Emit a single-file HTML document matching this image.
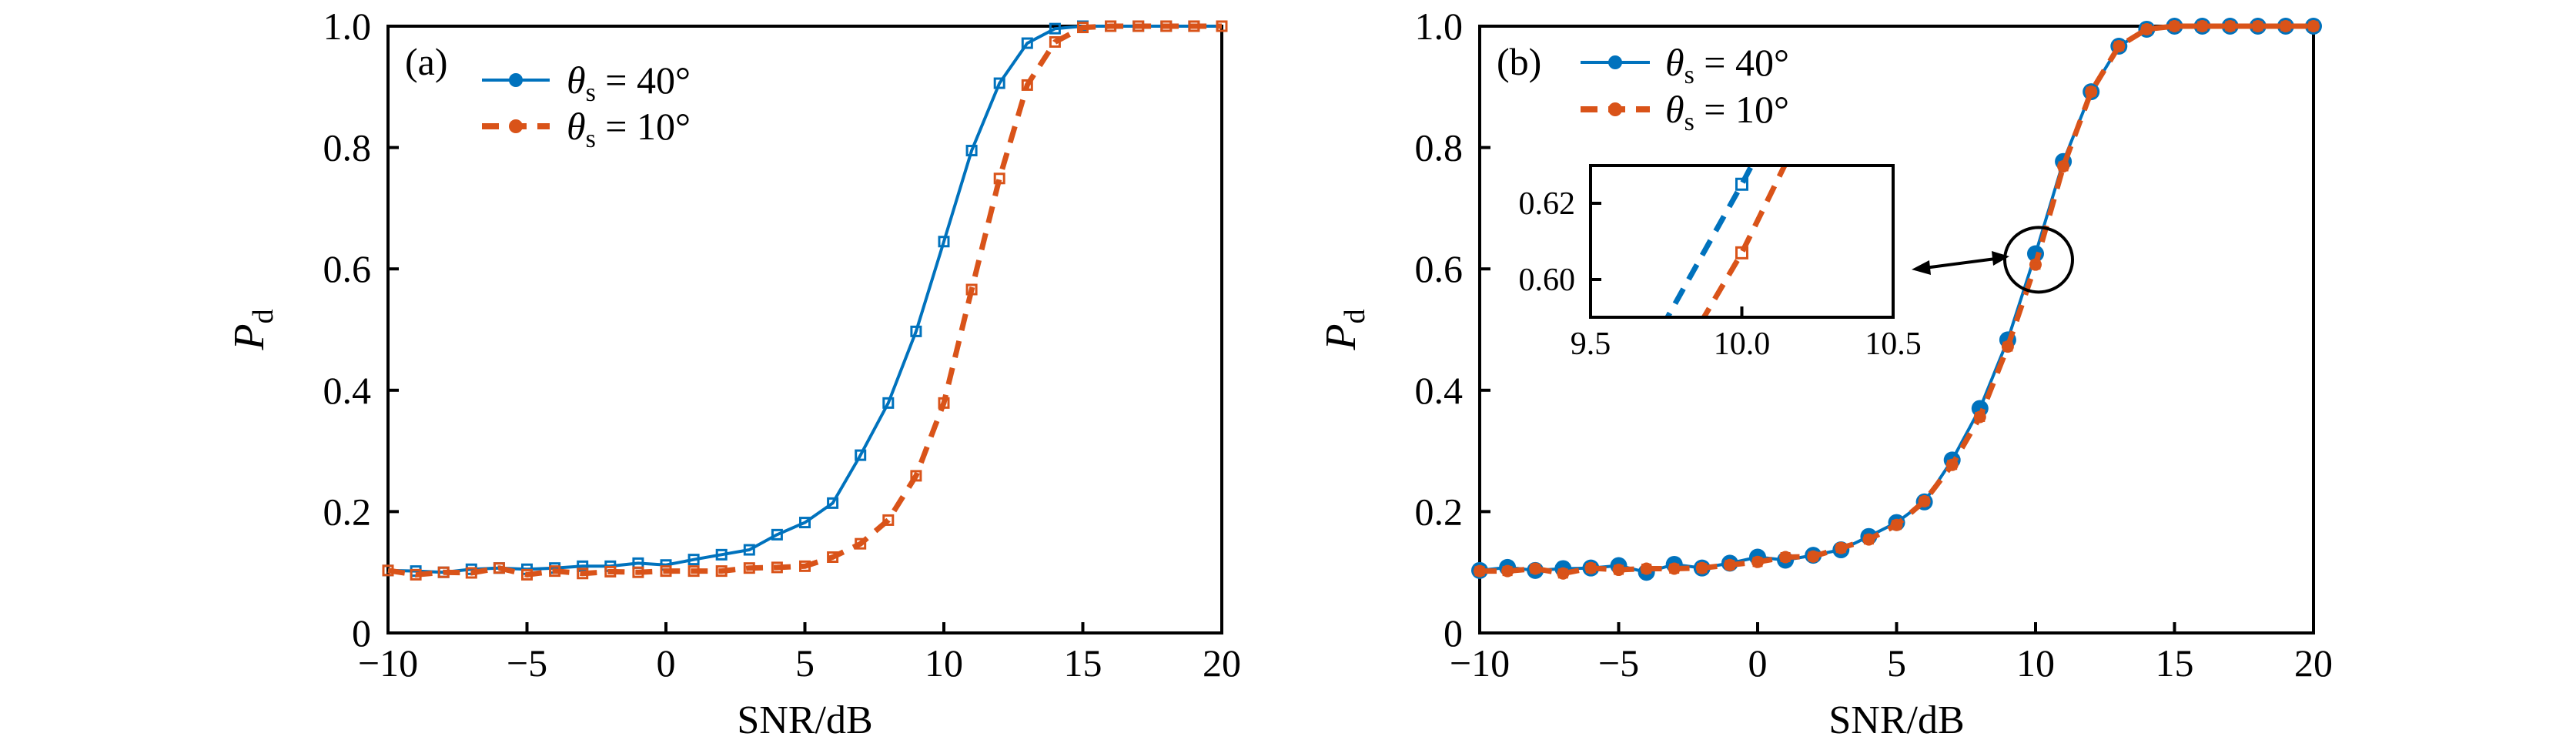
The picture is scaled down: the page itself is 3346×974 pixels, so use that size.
<!DOCTYPE html>
<html><head><meta charset="utf-8"><style>
html,body{margin:0;padding:0;background:#fff;width:3346px;height:974px;overflow:hidden;}
svg{display:block;}
svg text{font-family:"Liberation Serif","DejaVu Serif",serif !important;fill:#000;}
</style></head><body>
<svg id="fig" width="3346" height="974" viewBox="0 0 3346 974" font-family="Liberation Serif, serif" xmlns="http://www.w3.org/2000/svg">
<defs>
<clipPath id="clipInset"><rect x="2066" y="215" width="393" height="197"/></clipPath>
</defs>
<g id="panelA"></g>
<g id="panelB"></g>
</svg>
<script>
const snr = [-10,-9,-8,-7,-6,-5,-4,-3,-2,-1,0,1,2,3,4,5,6,7,8,9,10,11,12,13,14,15,16,17,18,19,20];
const aBlue = [0.103,0.102,0.100,0.105,0.107,0.105,0.107,0.110,0.110,0.115,0.112,0.121,0.129,0.137,0.162,0.182,0.214,0.293,0.379,0.497,0.645,0.795,0.906,0.972,0.996,1.0,1.0,1.0,1.0,1.0,1.0];
const aOrange = [0.103,0.096,0.100,0.099,0.107,0.096,0.102,0.098,0.101,0.100,0.102,0.102,0.102,0.107,0.108,0.110,0.125,0.147,0.186,0.259,0.379,0.566,0.749,0.903,0.974,0.998,1.0,1.0,1.0,1.0,1.0];
const bBlue = [0.103,0.108,0.103,0.106,0.107,0.111,0.100,0.113,0.107,0.115,0.125,0.120,0.128,0.137,0.159,0.182,0.216,0.285,0.370,0.483,0.625,0.777,0.892,0.967,0.995,1.0,1.0,1.0,1.0,1.0,1.0];
const bOrange = [0.102,0.102,0.106,0.098,0.107,0.104,0.106,0.106,0.107,0.112,0.117,0.125,0.126,0.140,0.154,0.178,0.217,0.277,0.356,0.472,0.607,0.769,0.892,0.967,0.995,1.0,1.0,1.0,1.0,1.0,1.0];
const xTicks = [-10,-5,0,5,10,15,20];
const xTickLabels = ["\u221210","\u22125","0","5","10","15","20"];
const yTicks = [0,0.2,0.4,0.6,0.8,1.0];
const yTickLabels = ["0","0.2","0.4","0.6","0.8","1.0"];
const insetXTicks = [9.5,10.0,10.5];
const insetXTickLabels = ["9.5","10.0","10.5"];
const insetYTicks = [0.60,0.62];
const insetYTickLabels = ["0.60","0.62"];

const NS = "http://www.w3.org/2000/svg";
const BLUE = "#0072BD", ORANGE = "#D95319";
function mk(tag, attrs, parent){const e=document.createElementNS(NS,tag);for(const k in attrs)e.setAttribute(k,attrs[k]);if(tag==='text')e.setAttribute('font-family','Liberation Serif, serif');parent.appendChild(e);return e;}
function linScale(d0,d1,r0,r1){return v=>r0+(v-d0)/(d1-d0)*(r1-r0);}

function axes(g, L, R, T, B, sx, sy, label){
  const frame = mk('rect',{x:L,y:T,width:R-L,height:B-T,fill:'none',stroke:'#000','stroke-width':4},g);
  
  
  xTicks.forEach((t,i)=>{
    const x=sx(t);
    const tk=mk('line',{x1:x,x2:x,y1:B,y2:B-14,stroke:'#000','stroke-width':4},g);
    
    
    const tx=mk('text',{x:x,y:878,'font-size':50,'text-anchor':'middle'},g);
    tx.textContent=xTickLabels[i];
    
    
  });
  yTicks.forEach((t,i)=>{
    const y=sy(t);
    const tk=mk('line',{x1:L,x2:L+14,y1:y,y2:y,stroke:'#000','stroke-width':4},g);
    
    
    const tx=mk('text',{x:L-22,y:y+17,'font-size':50,'text-anchor':'end'},g);
    tx.textContent=yTickLabels[i];
    
    
  });
  const xt=mk('text',{x:(L+R)/2,y:952,'font-size':52,'text-anchor':'middle'},g);
  xt.textContent='SNR/dB';
  
  
  const yt=mk('text',{x:0,y:0,'font-size':56,'text-anchor':'middle',transform:`translate(${L-162},${(T+B)/2}) rotate(-90)`},g);
  yt.innerHTML='<tspan font-style="italic">P</tspan><tspan font-size="38" dy="12">d</tspan>';
  
  
  const pl=mk('text',{x:L+22,y:T+63,'font-size':50},g);
  pl.textContent=label;
  
  
}
function pathD(xs,ys,sx,sy){return xs.map((x,i)=>(i?'L':'M')+sx(x).toFixed(1)+','+sy(ys[i]).toFixed(1)).join(' ');}
function series(g,xs,ys,sx,sy,color,dashed,width,name){
  const p=mk('path',{d:pathD(xs,ys,sx,sy),fill:'none',stroke:color,'stroke-width':width,'stroke-linejoin':'round'},g);
  if(dashed)p.setAttribute('stroke-dasharray','22 14');
  
  
  return p;
}
function squares(g,xs,ys,sx,sy,color,s,name){
  xs.forEach((x,i)=>{
    const r=mk('rect',{x:sx(x)-s/2,y:sy(ys[i])-s/2,width:s,height:s,fill:'none',stroke:color,'stroke-width':3},g);
    
    
  });
}
function circles(g,xs,ys,sx,sy,color,rad,name){
  xs.forEach((x,i)=>{
    const c=mk('circle',{cx:sx(x),cy:sy(ys[i]),r:rad,fill:color},g);
    
    
  });
}
function legend(g,x0,x1,y1,y2,tx){
  const l1=mk('line',{x1:x0,x2:x1,y1:y1,y2:y1,stroke:BLUE,'stroke-width':4},g);
  
  
  const c1=mk('circle',{cx:(x0+x1)/2,cy:y1,r:9,fill:BLUE},g);
  
  
  const l2=mk('line',{x1:x0,x2:x1,y1:y2,y2:y2,stroke:ORANGE,'stroke-width':8,'stroke-dasharray':'22 14'},g);
  
  
  const c2=mk('circle',{cx:(x0+x1)/2,cy:y2,r:9,fill:ORANGE},g);
  
  
  [[y1,'40'],[y2,'10']].forEach(([y,v])=>{
    const t=mk('text',{x:tx,y:y+17,'font-size':50},g);
    t.innerHTML='<tspan font-style="italic">\u03b8</tspan><tspan font-size="34" dy="10">s</tspan><tspan dy="-10"> = '+v+'\u00b0</tspan>';
    
    
  });
}

// Panel A
(function(){
  const g=document.getElementById('panelA');
  const L=504,R=1587,T=34,B=822;
  const sx=linScale(-10,20,L,R), sy=linScale(0,1,B,T);
  axes(g,L,R,T,B,sx,sy,'(a)');
  series(g,snr,aBlue,sx,sy,BLUE,false,4,'line-theta-40');
  squares(g,snr,aBlue,sx,sy,BLUE,12,'marker-theta-40');
  series(g,snr,aOrange,sx,sy,ORANGE,true,7,'line-theta-10');
  squares(g,snr,aOrange,sx,sy,ORANGE,12,'marker-theta-10');
  legend(g,626,714,104,164,736);
})();

// Panel B
(function(){
  const g=document.getElementById('panelB');
  const L=1922,R=3005,T=34,B=822;
  const sx=linScale(-10,20,L,R), sy=linScale(0,1,B,T);
  axes(g,L,R,T,B,sx,sy,'(b)');
  series(g,snr,bBlue,sx,sy,BLUE,false,4,'line-theta-40');
  circles(g,snr,bBlue,sx,sy,BLUE,11,'marker-theta-40');
  series(g,snr,bOrange,sx,sy,ORANGE,true,7,'line-theta-10');
  circles(g,snr,bOrange,sx,sy,ORANGE,8,'marker-theta-10');
  squares(g,snr,bOrange,sx,sy,ORANGE,10,'square-theta-10');
  legend(g,2053,2143,81,142,2163);

  const cx=sx(10), cy=sy(0.615);
  const el=mk('ellipse',{cx:cx+4,cy:cy,rx:44,ry:42,fill:'none',stroke:'#000','stroke-width':4},g);
  
  
  const ar=mk('line',{x1:2500,y1:348,x2:2592,y2:336,stroke:'#000','stroke-width':4},g);
  
  
  const h1=mk('polygon',{points:'2483,350 2506,338 2508,357',fill:'#000'},g);
  
  
  const h2=mk('polygon',{points:'2610,333 2587,326 2589,345',fill:'#000'},g);
  
  

  const ig=mk('g',{},g);
  
  
  const IL=2066,IR=2459,IT=215,IB=412;
  const ix=linScale(9.5,10.5,IL,IR), iy=linScale(0.5901,0.6299,IB,IT);
  const bg=mk('rect',{x:IL,y:IT,width:IR-IL,height:IB-IT,fill:'#fff',stroke:'none'},ig);
  
  
  const cg=mk('g',{'clip-path':'url(#clipInset)'},ig);
  
  
  series(cg,snr,bBlue,ix,iy,BLUE,true,7,'inset-line-theta-40');
  squares(cg,snr,bBlue,ix,iy,BLUE,14,'inset-marker-theta-40');
  series(cg,snr,bOrange,ix,iy,ORANGE,true,7,'inset-line-theta-10');
  squares(cg,snr,bOrange,ix,iy,ORANGE,14,'inset-marker-theta-10');
  const fr=mk('rect',{x:IL,y:IT,width:IR-IL,height:IB-IT,fill:'none',stroke:'#000','stroke-width':4},ig);
  
  
  insetXTicks.forEach((t,i)=>{
    const x=ix(t);
    const tk=mk('line',{x1:x,x2:x,y1:IB,y2:IB-14,stroke:'#000','stroke-width':4},ig);
    
    
    const tx=mk('text',{x:x,y:460,'font-size':42,'text-anchor':'middle'},ig);
    tx.textContent=insetXTickLabels[i];
    
    
  });
  insetYTicks.forEach((t,i)=>{
    const y=iy(t);
    const tk=mk('line',{x1:IL,x2:IL+14,y1:y,y2:y,stroke:'#000','stroke-width':4},ig);
    
    
    const tx=mk('text',{x:IL-20,y:y+14,'font-size':42,'text-anchor':'end'},ig);
    tx.textContent=insetYTickLabels[i];
    
    
  });
})();
</script>
</body></html>
